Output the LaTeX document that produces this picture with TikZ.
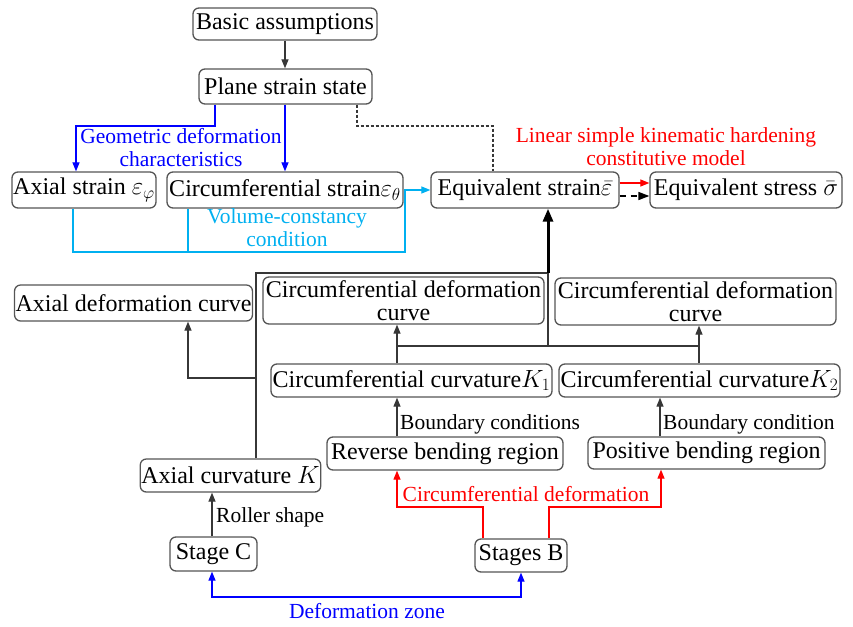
\documentclass[tikz,border=0pt]{standalone}
\usepackage{fontspec}
\setmainfont{Liberation Serif}
\usetikzlibrary{arrows.meta}
\definecolor{bordergray}{RGB}{85,85,85}
\definecolor{linegray}{RGB}{55,55,55}
\definecolor{cyanline}{RGB}{0,176,240}
\definecolor{pureblue}{RGB}{0,0,255}
\definecolor{purered}{RGB}{255,0,0}
\begin{document}
\begin{tikzpicture}[x=1pt,y=-1pt,
 box/.style={draw=bordergray, line width=1.3pt, rounded corners=6pt, inner sep=1pt,
   font=\fontsize{24}{23}\selectfont, align=center, text=black},
 lab/.style={font=\fontsize{21.5}{23}\selectfont, inner sep=0pt, align=center},
 conn/.style={line width=1.2pt, draw=linegray},
 arr/.style={-{Triangle[length=9pt,width=7pt]}},
 botharr/.style={{Triangle[length=9pt,width=7pt]}-{Triangle[length=9pt,width=7pt]}},
]
\useasboundingbox (0,0) rectangle (853,626);

% nodes
\node[box, minimum width=184, minimum height=32] (basic) at (285,24) {Basic assumptions};
\node[box, minimum width=173, minimum height=35] (plane) at (285.5,86.5) {Plane strain state};
\node[box, minimum width=144, minimum height=36] (axst) at (84,190) {Axial strain $\varepsilon_\varphi$};
\node[box, minimum width=236, minimum height=36] (circst) at (285,190) {Circumferential strain$\varepsilon_\theta$};
\node[box, minimum width=188, minimum height=36] (eqstrain) at (525,190) {Equivalent strain$\bar{\varepsilon}$};
\node[box, minimum width=192, minimum height=36] (eqstress) at (746,190) {Equivalent stress $\bar{\sigma}$};
\node[box, minimum width=237, minimum height=36] (axdef) at (133.5,303) {Axial deformation curve};
\node[box, minimum width=281, minimum height=47] (cdefL) at (403.5,300.5) {Circumferential deformation\\curve};
\node[box, minimum width=281, minimum height=47] (cdefR) at (695.5,301.5) {Circumferential deformation\\curve};
\node[box, minimum width=281, minimum height=33] (kone) at (411.5,380.5) {Circumferential curvature$K_1$};
\node[box, minimum width=281, minimum height=33] (ktwo) at (699.5,380.5) {Circumferential curvature$K_2$};
\node[box, minimum width=236, minimum height=33] (rev) at (445,453.5) {Reverse bending region};
\node[box, minimum width=237, minimum height=32] (pos) at (706.5,453) {Positive bending region};
\node[box, minimum width=175, minimum height=33] (axcurv) at (230.5,475.5) {Axial curvature $K$};
\node[box, minimum width=87, minimum height=34] (stC) at (213.5,554) {Stage C};
\node[box, minimum width=92, minimum height=33] (stB) at (521,555.5) {Stages B};

% labels
\node[lab, text=pureblue] (lgeo) at (181,148) {Geometric deformation\\characteristics};
\node[lab, text=cyanline] (lvol) at (287,228) {Volume-constancy\\condition};
\node[lab, text=purered] (llin) at (666,147) {Linear simple kinematic hardening\\constitutive model};
\node[lab, anchor=west] (lbc1) at (400,424) {Boundary conditions};
\node[lab, anchor=west] (lbc2) at (663,424) {Boundary condition};
\node[lab, anchor=west] (lroll) at (216,517) {Roller shape};
\node[lab, text=purered] (lcirc) at (526,494) {Circumferential deformation};
\node[lab, text=pureblue] (lzone) at (367,611) {Deformation zone};

% helper coordinates
\coordinate (bx1) at (215,126); \coordinate (bx2) at (76,126);
\coordinate (d1) at (357,126); \coordinate (d2) at (493,126);
\coordinate (c1) at (73,252); \coordinate (c2) at (188,252); \coordinate (c3) at (405,252);
\coordinate (j1) at (256,273); \coordinate (j2) at (548,273); \coordinate (j3) at (548,346);
\coordinate (h1) at (397,346); \coordinate (h2) at (699,346);
\coordinate (a1) at (256,378); \coordinate (a2) at (188,378);
\coordinate (p1) at (660,400); \coordinate (s1) at (212,500);
\coordinate (r1) at (483,507); \coordinate (r2) at (397,507);
\coordinate (r3) at (549,507); \coordinate (r4) at (661,507);
\coordinate (z1) at (212,597); \coordinate (z2) at (521,597);

% connectors
\draw[conn,arr] (basic.south) -- (basic.south |- plane.north);
\draw[conn,draw=pureblue,arr] (plane.south -| bx1) -- (bx1) -- (bx2) -- (axst.north -| bx2);
\draw[conn,draw=pureblue,arr] (circst.north |- plane.south) -- (circst.north);
\draw[line width=1.2pt, draw=linegray, dash pattern=on 3pt off 2pt] (plane.south -| d1) -- (d1) -- (d2) -- (eqstrain.north -| d2);
\draw[conn,draw=purered,arr] ([yshift=7pt]eqstrain.east) -- ([yshift=7pt]eqstress.west);
\draw[line width=1.6pt, draw=black, dash pattern=on 6pt off 5pt, -{Triangle[length=11pt,width=8pt]}] ([yshift=-6pt]eqstrain.east) -- ([yshift=-6pt]eqstress.west);
\draw[conn,draw=cyanline,arr] (axst.south -| c1) -- (c1) -- (c3) -- (c3 |- eqstrain.west) -- (eqstrain.west);
\draw[conn,draw=cyanline] (circst.south -| c2) -- (c2);
\draw[conn] (axcurv.north -| j1) -- (j1) -- (j2);
\draw[line width=3pt, draw=black, -{Triangle[length=13pt,width=10pt]}] (j2) -- (eqstrain.south -| j2);
\draw[conn] (j2) -- (j3);
\draw[conn] (h1) -- (h2);
\draw[conn,arr] (a1) -- (a2) -- (axdef.south -| a2);
\draw[conn,arr] (kone.north -| h1) -- (cdefL.south -| h1);
\draw[conn,arr] (ktwo.north -| h2) -- (cdefR.south -| h2);
\draw[conn,arr] (rev.north -| h1) -- (kone.south -| h1);
\draw[conn,arr] (pos.north -| p1) -- (ktwo.south -| p1);
\draw[conn,arr] (stC.north -| s1) -- (axcurv.south -| s1);
\draw[conn,draw=purered,arr] (stB.north -| r1) -- (r1) -- (r2) -- (rev.south -| r2);
\draw[conn,draw=purered,arr] (stB.north -| r3) -- (r3) -- (r4) -- (pos.south -| r4);
\draw[conn,draw=pureblue,botharr] (stC.south -| z1) -- (z1) -- (z2) -- (stB.south -| z2);
\end{tikzpicture}
\end{document}
